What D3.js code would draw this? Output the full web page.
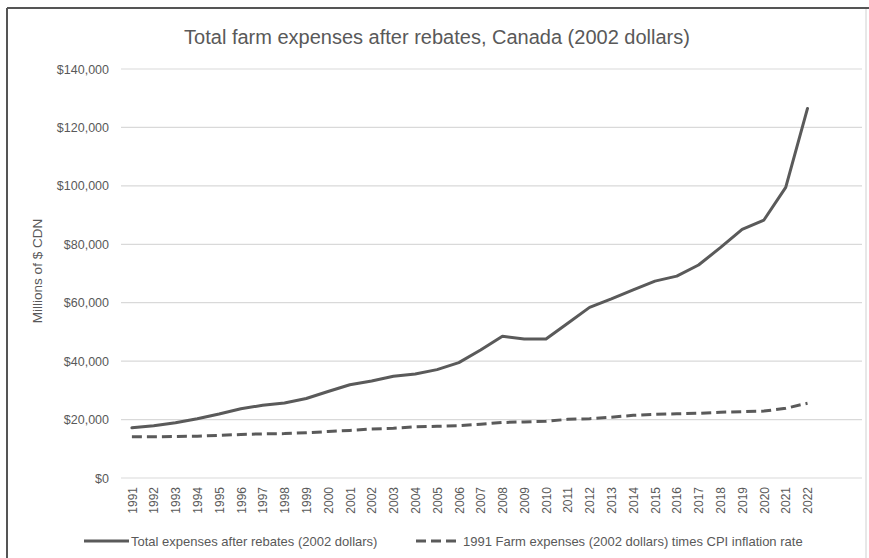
<!DOCTYPE html>
<html>
<head>
<meta charset="utf-8">
<script src="https://cdn.jsdelivr.net/npm/d3@7/dist/d3.min.js"></script>
<style>
  html, body { margin: 0; padding: 0; background: #fff; }
  svg { display: block; font-family: "Liberation Sans", Arial, sans-serif; }
</style>
</head>
<body>
<svg id="chart" width="869" height="558"></svg>
<script>
const years = [1991,1992,1993,1994,1995,1996,1997,1998,1999,2000,2001,2002,2003,2004,2005,2006,
               2007,2008,2009,2010,2011,2012,2013,2014,2015,2016,2017,2018,2019,2020,2021,2022];
const totalExpenses = [17200,17900,18900,20300,21900,23700,24900,25700,27200,29600,31900,33200,34800,35600,37100,39500,
                       43800,48500,47600,47600,53000,58400,61300,64400,67400,69100,72900,78850,85100,88300,99500,126500];
const cpiBaseline = [14150,14100,14200,14300,14600,14900,15100,15200,15500,15900,16300,16800,17000,17500,17700,17900,
                     18400,19000,19200,19400,20100,20300,20800,21450,21800,22000,22150,22500,22700,22900,23850,25600];
const yTicks = [0,20000,40000,60000,80000,100000,120000,140000];
const seriesNames = ["Total expenses after rebates (2002 dollars)",
                     "1991 Farm expenses (2002 dollars) times CPI inflation rate"];
const titleText = "Total farm expenses after rebates, Canada (2002 dollars)";
const yTitle = "Millions of $ CDN";

const svg = d3.select("#chart");
const ink = "#595959";
const lineInk = "#5a5a5a";

// outer frame
svg.append("line").attr("x1", 7).attr("y1", 8).attr("x2", 869).attr("y2", 8)
   .attr("stroke", "#555").attr("stroke-width", 2);
svg.append("line").attr("x1", 7).attr("y1", 8).attr("x2", 7).attr("y2", 558)
   .attr("stroke", "#555").attr("stroke-width", 2);
svg.append("line").attr("x1", 866).attr("y1", 9).attr("x2", 866).attr("y2", 558)
   .attr("stroke", "#d0d0d0").attr("stroke-width", 1);

const x = d3.scaleLinear().domain([1990.5, 2024.5]).range([121, 862]);
const y = d3.scaleLinear().domain([0, 140000]).range([478, 69]);

// gridlines
svg.append("g").selectAll("line").data(yTicks).join("line")
  .attr("x1", x.range()[0]).attr("x2", x.range()[1])
  .attr("y1", d => y(d)).attr("y2", d => y(d))
  .attr("stroke", "#d9d9d9").attr("stroke-width", 1.2);

// y axis
const yAxis = svg.append("g").attr("transform", `translate(${x.range()[0]},0)`)
  .call(d3.axisLeft(y).tickValues(yTicks).tickSize(0).tickPadding(12)
        .tickFormat(d => "$" + d3.format(",")(d)));
yAxis.select(".domain").remove();
yAxis.selectAll("text").attr("fill", ink).attr("font-size", 12.5)
  .attr("font-family", "Liberation Sans, Arial, sans-serif");

// x axis
const xAxis = svg.append("g").attr("transform", `translate(0,${y(0)})`)
  .call(d3.axisBottom(x).tickValues(years).tickSize(0).tickFormat(d3.format("d")));
xAxis.select(".domain").remove();
xAxis.selectAll("text")
  .attr("fill", ink).attr("font-size", 12)
  .attr("font-family", "Liberation Sans, Arial, sans-serif")
  .attr("transform", "rotate(-90)")
  .attr("text-anchor", "end")
  .attr("x", -9).attr("y", 0).attr("dy", "0.35em");

// lines
const lineGen = vals => d3.line().x((d, i) => x(years[i])).y(d => y(d))(vals);
svg.append("path").attr("d", lineGen(totalExpenses))
  .attr("fill", "none").attr("stroke", lineInk).attr("stroke-width", 3)
  .attr("stroke-linejoin", "round").attr("stroke-linecap", "round");
svg.append("path").attr("d", lineGen(cpiBaseline))
  .attr("fill", "none").attr("stroke", lineInk).attr("stroke-width", 3)
  .attr("stroke-dasharray", "10,5");

// title
svg.append("text").attr("x", 437).attr("y", 44).attr("text-anchor", "middle")
  .attr("fill", ink).attr("font-size", 20).text(titleText);

// y title
svg.append("text").attr("transform", "translate(42,271) rotate(-90)")
  .attr("text-anchor", "middle").attr("fill", ink).attr("font-size", 13.5).text(yTitle);

// legend
const legendX = [84, 416];
const legendDash = [null, "10,5"];
const legendTextX = [47, 47];
const lg = svg.append("g").selectAll("g").data(seriesNames).join("g")
  .attr("transform", (d, i) => `translate(${legendX[i]},541)`);
lg.append("line").attr("x1", 0).attr("x2", 45).attr("y1", 0).attr("y2", 0)
  .attr("stroke", lineInk).attr("stroke-width", 3)
  .attr("stroke-dasharray", (d, i) => legendDash[i]);
lg.append("text").attr("x", (d, i) => legendTextX[i]).attr("y", 0).attr("dy", "0.35em")
  .attr("fill", ink).attr("font-size", 13).text(d => d);
</script>
</body>
</html>
